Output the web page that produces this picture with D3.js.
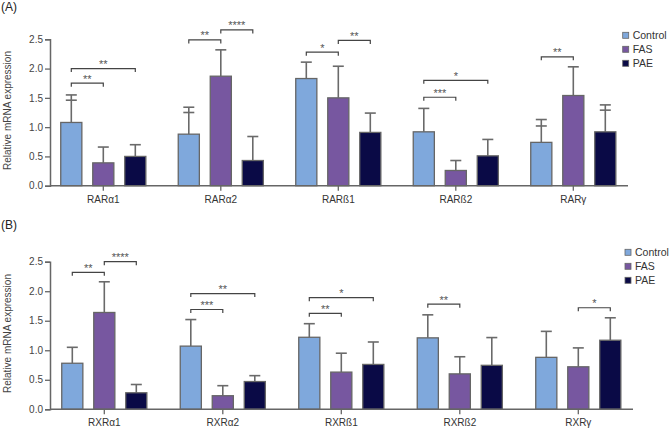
<!DOCTYPE html>
<html>
<head>
<meta charset="utf-8">
<script src="https://cdn.jsdelivr.net/npm/d3@7/dist/d3.min.js"></script>
<style>
  body { margin: 0; background: #fff; }
  text { font-family: "Liberation Sans", Arial, sans-serif; }
</style>
</head>
<body>
<div id="chart"></div>
<script>
var seriesNames = ["Control", "FAS", "PAE"];
var seriesColors = ["#7fa8dc", "#7757a0", "#0a0a46"];
var yTicks = [0, 0.5, 1.0, 1.5, 2.0, 2.5];

// panel A - RAR
var rarGenes = ["RARα1", "RARα2", "RARß1", "RARß2", "RARγ"];
var rarControl = [1.08, 0.88, 1.83, 0.92, 0.74];
var rarFAS     = [0.39, 1.87, 1.50, 0.26, 1.54];
var rarPAE     = [0.50, 0.43, 0.91, 0.51, 0.92];
var rarControlSD = [0.47, 0.46, 0.28, 0.40, 0.39];
var rarFASSD     = [0.27, 0.45, 0.54, 0.17, 0.49];
var rarPAESD     = [0.20, 0.41, 0.33, 0.28, 0.46];
// [gene, from series, to series, level, label]
var rarSig = [
  [0, 0, 1, 1.75, "**"], [0, 0, 2, 2.0, "**"],
  [1, 0, 1, 2.49, "**"], [1, 1, 2, 2.66, "****"],
  [2, 0, 1, 2.28, "*"], [2, 1, 2, 2.48, "**"],
  [3, 0, 1, 1.51, "***"], [3, 0, 2, 1.80, "*"],
  [4, 0, 1, 2.20, "**"]
];
// extra cap marks seen on some error bars [gene, series, value]
var rarExtraCaps = [[0, 0, 1.46], [1, 0, 1.25], [4, 0, 1.02], [4, 2, 1.29]];

// panel B - RXR
var rxrGenes = ["RXRα1", "RXRα2", "RXRß1", "RXRß2", "RXRγ"];
var rxrControl = [0.78, 1.07, 1.22, 1.21, 0.88];
var rxrFAS     = [1.64, 0.23, 0.63, 0.60, 0.72];
var rxrPAE     = [0.28, 0.47, 0.76, 0.745, 1.17];
var rxrControlSD = [0.27, 0.45, 0.23, 0.39, 0.44];
var rxrFASSD     = [0.52, 0.17, 0.32, 0.29, 0.32];
var rxrPAESD     = [0.14, 0.10, 0.38, 0.47, 0.38];
var rxrSig = [
  [0, 0, 1, 2.32, "**"], [0, 1, 2, 2.50, "****"],
  [1, 0, 1, 1.69, "***"], [1, 0, 2, 1.96, "**"],
  [2, 0, 1, 1.625, "**"], [2, 0, 2, 1.89, "*"],
  [3, 0, 1, 1.78, "**"],
  [4, 1, 2, 1.72, "*"]
];
var rxrExtraCaps = [];

var svg = d3.select('#chart').append('svg')
    .attr('width', 669)
    .attr('height', 432);

function drawPanel(p) {
    var g = svg.append('g');

    var x0 = d3.scaleBand()
        .domain(p.genes)
        .range(p.bandRange);

    var x1 = d3.scaleBand()
        .domain(seriesNames)
        .range([-48, 48])
        .paddingInner(0.34)
        .paddingOuter(0.17);

    var y = d3.scaleLinear()
        .domain([0, 2.5])
        .range([p.bottom, p.top]);

    var cx = function (gi, si) {
        return x0(p.genes[gi]) + x0.bandwidth() / 2 + x1(seriesNames[si]) + x1.bandwidth() / 2;
    };

    // flatten series into rows
    var rows = [];
    p.genes.forEach(function (gene, gi) {
        seriesNames.forEach(function (s, si) {
            rows.push({gi: gi, si: si, v: p.values[si][gi], sd: p.sds[si][gi]});
        });
    });

    // error bars (upper only)
    var err = g.selectAll('.err').data(rows).enter().append('g').attr('class', 'err');
    err.append('line')
        .attr('x1', function (d) { return cx(d.gi, d.si); })
        .attr('x2', function (d) { return cx(d.gi, d.si); })
        .attr('y1', function (d) { return y(d.v); })
        .attr('y2', function (d) { return y(d.v + d.sd); })
        .attr('stroke', '#6a6a6a').attr('stroke-width', 1.6);
    err.append('line')
        .attr('x1', function (d) { return cx(d.gi, d.si) - 5.5; })
        .attr('x2', function (d) { return cx(d.gi, d.si) + 5.5; })
        .attr('y1', function (d) { return y(d.v + d.sd); })
        .attr('y2', function (d) { return y(d.v + d.sd); })
        .attr('stroke', '#6a6a6a').attr('stroke-width', 1.6);

    g.selectAll('.cap2').data(p.extraCaps).enter().append('line')
        .attr('x1', function (d) { return cx(d[0], d[1]) - 5.5; })
        .attr('x2', function (d) { return cx(d[0], d[1]) + 5.5; })
        .attr('y1', function (d) { return y(d[2]); })
        .attr('y2', function (d) { return y(d[2]); })
        .attr('stroke', '#6a6a6a').attr('stroke-width', 1.6);

    // bars
    g.selectAll('.bar').data(rows).enter().append('rect')
        .attr('x', function (d) { return cx(d.gi, d.si) - x1.bandwidth() / 2; })
        .attr('y', function (d) { return y(d.v); })
        .attr('width', x1.bandwidth())
        .attr('height', function (d) { return y(0) - y(d.v); })
        .attr('fill', function (d) { return seriesColors[d.si]; })
        .attr('stroke', '#666')
        .attr('stroke-width', 1.3);

    // y axis
    var ya = g.append('g')
        .attr('transform', 'translate(' + p.axisStart + ',0)')
        .call(d3.axisLeft(y).tickValues(yTicks).tickFormat(d3.format('.1f')).tickSize(5).tickPadding(2));
    ya.select('.domain').attr('stroke', '#666').attr('stroke-width', 1.5);
    ya.selectAll('.tick line').attr('stroke', '#666').attr('stroke-width', 1.3);
    ya.selectAll('.tick text').attr('font-size', 10).attr('fill', '#444')
        .style('font-family', '"Liberation Sans", Arial, sans-serif');

    // x axis
    var xa = g.append('g')
        .attr('transform', 'translate(0,' + p.bottom + ')')
        .call(d3.axisBottom(x0).tickSize(5).tickSizeOuter(0).tickPadding(5));
    xa.select('.domain').attr('d', 'M' + p.axisStart + ',0H' + p.axisEnd)
        .attr('stroke', '#666').attr('stroke-width', 1.5);
    xa.selectAll('.tick line').attr('stroke', '#666').attr('stroke-width', 1.3);
    xa.selectAll('.tick text').attr('font-size', 10).attr('fill', '#333')
        .style('font-family', '"Liberation Sans", Arial, sans-serif');

    g.append('text')
        .attr('transform', 'rotate(-90)')
        .attr('x', -(p.top + p.bottom) / 2 + 2)
        .attr('y', 10.5)
        .attr('text-anchor', 'middle')
        .attr('font-size', 10)
        .attr('fill', '#444')
        .text('Relative mRNA expression');

    // significance brackets
    var br = g.selectAll('.sig').data(p.sig).enter().append('g').attr('class', 'sig');
    br.append('path')
        .attr('d', function (d) {
            var a = cx(d[0], d[1]), b = cx(d[0], d[2]), yy = y(d[3]);
            return 'M' + a + ',' + (yy + 3.5) + 'V' + yy + 'H' + b + 'V' + (yy + 3.5);
        })
        .attr('fill', 'none')
        .attr('stroke', '#444')
        .attr('stroke-width', 1.2);
    br.append('text')
        .attr('x', function (d) { return (cx(d[0], d[1]) + cx(d[0], d[2])) / 2; })
        .attr('y', function (d) { return y(d[3]) - 0.5; })
        .attr('text-anchor', 'middle')
        .attr('font-size', 11)
        .attr('fill', '#555')
        .text(function (d) { return d[4]; });

    // panel tag
    g.append('text')
        .attr('x', 1).attr('y', p.tagY)
        .attr('font-size', 12).attr('fill', '#222')
        .text(p.tag);

    // legend
    var lg = g.selectAll('.lg').data(seriesNames).enter().append('g')
        .attr('transform', function (d, i) { return 'translate(' + p.legendX + ',' + (p.legendY + i * 14) + ')'; });
    lg.append('rect')
        .attr('x', 0).attr('y', -3)
        .attr('width', 6).attr('height', 6)
        .attr('fill', function (d, i) { return seriesColors[i]; })
        .attr('stroke', '#666').attr('stroke-width', 0.8);
    lg.append('text')
        .attr('x', 10).attr('y', 3.8)
        .attr('font-size', 10.5).attr('fill', '#333')
        .text(function (d) { return d; });
}

drawPanel({
    genes: rarGenes,
    values: [rarControl, rarFAS, rarPAE],
    sds: [rarControlSD, rarFASSD, rarPAESD],
    sig: rarSig,
    extraCaps: rarExtraCaps,
    top: 39.3, bottom: 185.7,
    axisStart: 50, axisEnd: 628,
    bandRange: [44.55, 632.05],
    tag: '(A)', tagY: 11,
    legendX: 622.7, legendY: 35.3
});

drawPanel({
    genes: rxrGenes,
    values: [rxrControl, rxrFAS, rxrPAE],
    sds: [rxrControlSD, rxrFASSD, rxrPAESD],
    sig: rxrSig,
    extraCaps: rxrExtraCaps,
    top: 261.7, bottom: 409.3,
    axisStart: 50, axisEnd: 633,
    bandRange: [45.05, 637.55],
    tag: '(B)', tagY: 229,
    legendX: 625, legendY: 252.3
});
</script>
</body>
</html>
